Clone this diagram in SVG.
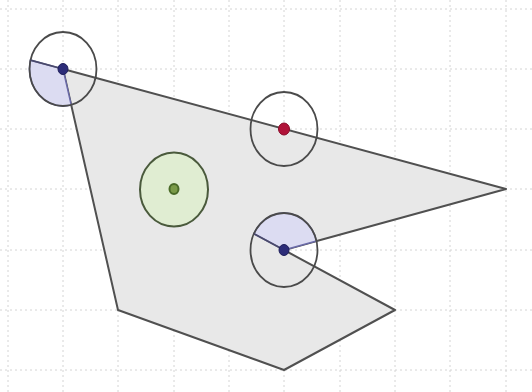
<svg xmlns="http://www.w3.org/2000/svg" width="532" height="392" viewBox="0 0 532 392">
<style>
.grid line{stroke:#d4d4d4;stroke-width:1;stroke-dasharray:2 3}
.poly{fill:#e8e8e8;stroke:#505050;stroke-width:2;stroke-linejoin:round}
.ring{fill:none;stroke:#4a4a4a;stroke-width:1.8}
.sector{fill:#dcdcf2;stroke:#6a6aa8;stroke-width:1.5}
.ext{stroke:#4a4a6a;stroke-width:1.8}
.bluept{fill:#2c2c78;stroke:#1e1e5a;stroke-width:1}
</style>
<rect width="532" height="392" fill="#ffffff"/>
<g class="grid">
<line x1="0" y1="9" x2="532" y2="9"/>
<line x1="0" y1="69" x2="532" y2="69"/>
<line x1="0" y1="129" x2="532" y2="129"/>
<line x1="0" y1="189" x2="532" y2="189"/>
<line x1="0" y1="250" x2="532" y2="250"/>
<line x1="0" y1="310" x2="532" y2="310"/>
<line x1="0" y1="370" x2="532" y2="370"/>
<line x1="8" y1="0" x2="8" y2="392"/>
<line x1="63" y1="0" x2="63" y2="392"/>
<line x1="118" y1="0" x2="118" y2="392"/>
<line x1="174" y1="0" x2="174" y2="392"/>
<line x1="229" y1="0" x2="229" y2="392"/>
<line x1="284" y1="0" x2="284" y2="392"/>
<line x1="340" y1="0" x2="340" y2="392"/>
<line x1="395" y1="0" x2="395" y2="392"/>
<line x1="450" y1="0" x2="450" y2="392"/>
<line x1="506" y1="0" x2="506" y2="392"/>
</g>
<g id="polygon">
<polygon class="poly" points="63,69 506,189 284,250 395,310 284,370 118,310"/>
</g>
<g id="angleA">
<path class="sector" d="M63,69 L30.46,60.18 A33.5,37 0 0 0 71.19,104.89 Z"/>
<ellipse class="ring" cx="63" cy="69" rx="33.5" ry="37"/>
<line class="ext" x1="63" y1="69" x2="30.46" y2="60.18"/>
<ellipse class="bluept" cx="63" cy="69" rx="5" ry="5.5"/>
</g>
<g id="pointRed">
<ellipse class="ring" cx="284" cy="129" rx="33.5" ry="37"/>
<ellipse cx="284" cy="129" rx="5.5" ry="6" fill="#b01238" stroke="#8a0a28" stroke-width="1"/>
</g>
<g id="angleB">
<path class="sector" d="M284,250 L316.51,241.07 A33.5,37 0 0 0 253.91,233.74 Z"/>
<ellipse class="ring" cx="284" cy="250" rx="33.5" ry="37"/>
<line class="ext" x1="284" y1="250" x2="253.91" y2="233.74"/>
<ellipse class="bluept" cx="284" cy="250" rx="5" ry="5.5"/>
</g>
<g id="pointGreen">
<ellipse cx="174" cy="189.5" rx="34" ry="37" fill="#e0edd2" stroke="#4a5a3c" stroke-width="2"/>
<ellipse cx="174" cy="189" rx="4.5" ry="5" fill="#7a9a48" stroke="#4a6a28" stroke-width="2"/>
</g>
</svg>
